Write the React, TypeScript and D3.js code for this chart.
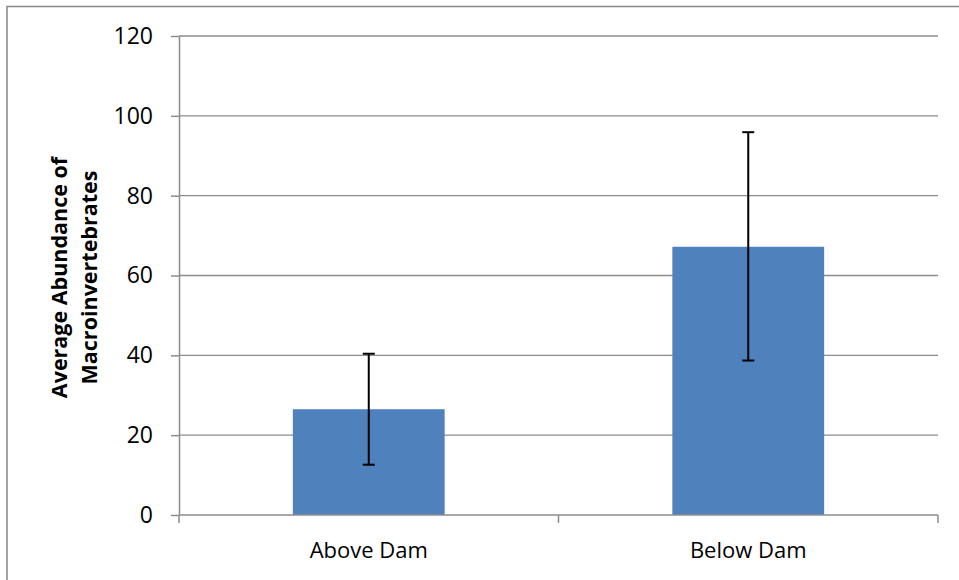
import { useEffect, useRef } from 'react';
import * as d3 from 'd3';

const categories = ['Above Dam', 'Below Dam'];
const means = [26.5, 67.2];
const errLow = [12.6, 38.7];
const errHigh = [40.4, 95.9];
const yTicks = [0, 20, 40, 60, 80, 100, 120];

export default function App() {
	const ref = useRef<SVGSVGElement | null>(null);

	useEffect(() => {
		if (!ref.current) return;
		const svg = d3.select(ref.current);
		svg.selectAll('*').remove();

		const font = "'Open Sans', 'Noto Sans', sans-serif";
		const left = 179;
		const right = 938;
		const top = 36;
		const bottom = 515;

		// outer chart border (right and bottom edges fall outside the frame)
		svg
			.append('rect')
			.attr('x', 7)
			.attr('y', 6.5)
			.attr('width', 1000)
			.attr('height', 1000)
			.attr('fill', 'white')
			.attr('stroke', '#878787')
			.attr('stroke-width', 1.5);

		const x = d3.scaleBand().domain(categories).range([left, right]).paddingInner(0.6).paddingOuter(0.3);
		const y = d3.scaleLinear().domain([0, 120]).range([bottom, top]);

		// gridlines
		svg
			.append('g')
			.selectAll('line')
			.data(yTicks.filter(t => t > 0))
			.join('line')
			.attr('x1', left)
			.attr('x2', right)
			.attr('y1', d => y(d))
			.attr('y2', d => y(d))
			.attr('stroke', '#8c8c8c')
			.attr('stroke-width', 1.3);

		// bars
		svg
			.append('g')
			.selectAll('rect')
			.data(categories)
			.join('rect')
			.attr('x', d => x(d)!)
			.attr('width', x.bandwidth())
			.attr('y', (d, i) => y(means[i]))
			.attr('height', (d, i) => bottom - y(means[i]))
			.attr('fill', '#4f81bd');

		// error bars
		const eb = svg.append('g').attr('stroke', 'black').attr('stroke-width', 2);
		categories.forEach((c, i) => {
			const cx = x(c)! + x.bandwidth() / 2;
			eb.append('line').attr('x1', cx).attr('x2', cx).attr('y1', y(errLow[i])).attr('y2', y(errHigh[i]));
			eb.append('line').attr('x1', cx - 6).attr('x2', cx + 6).attr('y1', y(errLow[i])).attr('y2', y(errLow[i]));
			eb.append('line').attr('x1', cx - 6).attr('x2', cx + 6).attr('y1', y(errHigh[i])).attr('y2', y(errHigh[i]));
		});

		// y axis
		const yAxis = svg
			.append('g')
			.attr('transform', `translate(${left},0)`)
			.call(d3.axisLeft(y).tickValues(yTicks).tickSize(8).tickPadding(18).tickSizeOuter(0));
		yAxis.selectAll('path, line').attr('stroke', '#8c8c8c').attr('stroke-width', 1.5);
		yAxis.selectAll('text').attr('fill', 'black').style('font-family', font).style('font-size', '23px');

		// x axis
		const xBoundaries = [left, (left + right) / 2, right];
		const xa = svg.append('g');
		xa.append('line').attr('x1', left).attr('x2', right).attr('y1', bottom).attr('y2', bottom).attr('stroke', '#8c8c8c').attr('stroke-width', 1.5);
		xa.selectAll('line.tick')
			.data(xBoundaries)
			.join('line')
			.attr('class', 'tick')
			.attr('x1', d => d)
			.attr('x2', d => d)
			.attr('y1', bottom)
			.attr('y2', bottom + 8)
			.attr('stroke', '#8c8c8c')
			.attr('stroke-width', 1.5);
		xa.selectAll('text')
			.data(categories)
			.join('text')
			.attr('x', d => x(d)! + x.bandwidth() / 2)
			.attr('y', 558)
			.attr('text-anchor', 'middle')
			.style('font-family', font)
			.style('font-size', '22px')
			.text(d => d);

		// y title
		const title = svg
			.append('text')
			.attr('transform', `translate(67, ${(152 + 403) / 2}) rotate(-90)`)
			.attr('text-anchor', 'middle')
			.style('font-family', font)
			.style('font-size', '21.5px')
			.style('font-weight', 'bold');
		title.append('tspan').attr('x', 0).attr('dy', 0).text('Average Abundance of');
		title.append('tspan').attr('x', 0).attr('dy', 30).text('Macroinvertebrates');
	}, []);

	return (
		<svg
			ref={ref}
			width={959}
			height={580}
			style={{ position: 'absolute', left: 0, top: 0 }}
		/>
	);
}
